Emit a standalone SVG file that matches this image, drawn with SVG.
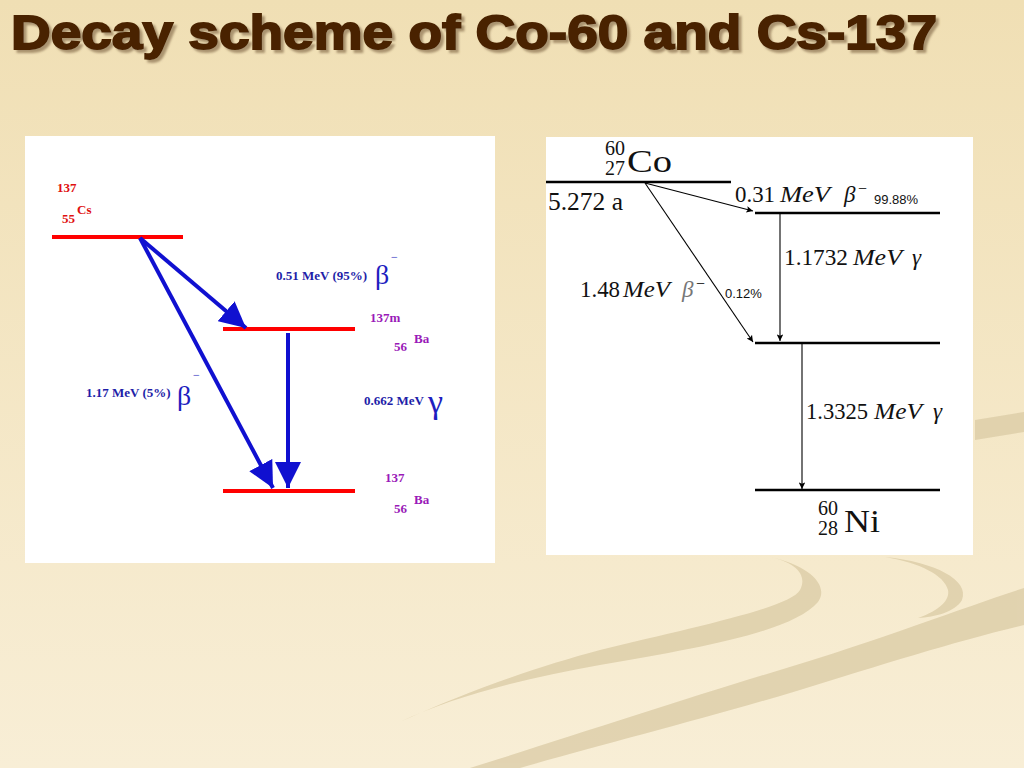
<svg xmlns="http://www.w3.org/2000/svg" width="1024" height="768" viewBox="0 0 1024 768">
<defs>
<linearGradient id="bg" x1="0" y1="0" x2="0" y2="1">
<stop offset="0" stop-color="#F0DFB4"/>
<stop offset="1" stop-color="#F8EED6"/>
</linearGradient>
<filter id="shadow" x="-5%" y="-20%" width="110%" height="150%">
<feDropShadow dx="3" dy="3" stdDeviation="1.2" flood-color="#7A6040" flood-opacity="0.6"/>
</filter>
<marker id="bh" viewBox="0 0 10 10" refX="10" refY="5" markerWidth="6.5" markerHeight="6.5" markerUnits="strokeWidth" orient="auto">
<path d="M0,0 L10,5 L0,10 Z" fill="#1010D0"/>
</marker>
<marker id="kh" viewBox="0 0 10 10" refX="10" refY="5" markerWidth="9" markerHeight="6" markerUnits="strokeWidth" orient="auto">
<path d="M0,0 L10,5 L0,10 L2,5 Z" fill="#000"/>
</marker>
<style>
.red{stroke:#FF0000;stroke-width:4}
.blk{stroke:#000;stroke-width:2.5}
.bl{stroke:#1010D0;stroke-width:4;fill:none;marker-end:url(#bh)}
.th{stroke:#000;stroke-width:1.1;fill:none;marker-end:url(#kh)}
.lb{font-family:"Liberation Serif",serif;font-weight:bold;font-size:13px;fill:#1E1EA8}
.cs{font-family:"Liberation Serif",serif;font-weight:bold;font-size:13px;fill:#E01010}
.ba{font-family:"Liberation Serif",serif;font-weight:bold;font-size:13px;fill:#9A1AB8}
.gr{font-family:"Liberation Serif",serif;fill:#1E1EC0}
.tx{font-family:"Liberation Serif",serif;fill:#111}
.it{font-style:italic}
.sm{font-family:"Liberation Sans",sans-serif;font-size:13px;fill:#111}
</style>
</defs>
<rect width="1024" height="768" fill="url(#bg)"/>
<g id="swooshes" fill="#D9C9A2" opacity="0.7">
<path d="M975,420 L1024,412 L1024,432 L975,440 Z"/>
<path d="M770,557 C808,565 830,585 818,602 C792,632 700,648 600,665 C520,679 450,698 400,722 C470,690 540,666 600,650 C690,628 790,608 800,590 C808,575 795,562 770,557 Z"/>
<path d="M885,557 C935,562 970,580 962,600 C955,612 935,617 918,618 C940,610 950,600 948,590 C944,575 920,563 885,557 Z"/>
<path d="M1024,588 L1024,625 C960,640 880,665 800,690 C700,720 600,745 520,768 L470,768 C560,740 680,700 780,670 C880,640 970,605 1024,588 Z"/>
</g>
<g id="title">
<text x="11" y="49" font-family="Liberation Sans,Arial,sans-serif" font-weight="bold" font-size="48" textLength="926" lengthAdjust="spacingAndGlyphs" fill="#4A2400" stroke="#4A2400" stroke-width="1.8" filter="url(#shadow)">Decay scheme of Co-60 and Cs-137</text>
</g>
<g id="cs137-panel">
<rect x="25" y="136" width="470" height="427" fill="#FFFFFF"/>
<g id="cs137">
<line class="red" x1="52" y1="237" x2="183" y2="237"/>
<text class="cs" x="57" y="192">137</text>
<text class="cs" x="62" y="223">55</text>
<text class="cs" x="77" y="214">Cs</text>
</g>
<g id="ba137m">
<line class="red" x1="223" y1="329" x2="355" y2="329"/>
<text class="ba" x="370" y="322">137m</text>
<text class="ba" x="394" y="351">56</text>
<text class="ba" x="414" y="343">Ba</text>
</g>
<g id="ba137">
<line class="red" x1="223" y1="491" x2="355" y2="491"/>
<text class="ba" x="385" y="482">137</text>
<text class="ba" x="394" y="513">56</text>
<text class="ba" x="414" y="504">Ba</text>
</g>
<g id="cs-connectors">
<line class="bl" x1="140" y1="238" x2="246" y2="328"/>
<line class="bl" x1="140" y1="238" x2="273" y2="488"/>
<line class="bl" x1="288" y1="333" x2="288" y2="488"/>
</g>
<g id="cs-labels">
<text class="lb" x="276" y="280">0.51 MeV (95%)</text>
<text class="gr" x="375" y="284" font-size="28">β</text>
<text class="gr" x="391" y="261" font-size="12">−</text>
<text class="lb" x="86" y="397">1.17 MeV (5%)</text>
<text class="gr" x="177" y="405" font-size="28">β</text>
<text class="gr" x="193" y="379" font-size="12">−</text>
<text class="lb" x="364" y="405">0.662 MeV</text>
<text class="gr" x="428" y="413" font-size="34">γ</text>
</g>
</g>
<g id="co60-panel">
<rect x="546" y="137" width="427" height="418" fill="#FFFFFF"/>
<g id="co60">
<line class="blk" x1="546" y1="182" x2="731" y2="182"/>
<text class="tx" x="605" y="155" font-size="20">60</text>
<text class="tx" x="605" y="175" font-size="20">27</text>
<text class="tx" x="627" y="172" font-size="31" textLength="45" lengthAdjust="spacingAndGlyphs">Co</text>
<text class="tx" x="548" y="210" font-size="25" textLength="75" lengthAdjust="spacingAndGlyphs">5.272 a</text>
</g>
<g id="ni60-2505">
<line class="blk" x1="755" y1="213" x2="940" y2="213"/>
</g>
<g id="ni60-1332">
<line class="blk" x1="755" y1="343" x2="940" y2="343"/>
</g>
<g id="ni60">
<line class="blk" x1="755" y1="490" x2="940" y2="490"/>
<text class="tx" x="818" y="515" font-size="20">60</text>
<text class="tx" x="818" y="535" font-size="20">28</text>
<text class="tx" x="844" y="532" font-size="31" textLength="36" lengthAdjust="spacingAndGlyphs">Ni</text>
</g>
<g id="co-connectors">
<line class="th" x1="645" y1="183" x2="753" y2="211"/>
<line class="th" x1="645" y1="183" x2="753" y2="342"/>
<line class="th" x1="780" y1="214" x2="780" y2="341"/>
<line class="th" x1="802" y1="344" x2="802" y2="489"/>
</g>
<g id="co-labels">
<text class="tx" font-size="23" y="202"><tspan x="735" textLength="40" lengthAdjust="spacingAndGlyphs">0.31</tspan><tspan class="it" x="780" textLength="50" lengthAdjust="spacingAndGlyphs">MeV</tspan><tspan class="it" x="844">β</tspan><tspan x="858" font-size="16" dy="-8">−</tspan></text>
<text class="sm" x="874" y="204">99.88%</text>
<text class="tx" font-size="23" y="265"><tspan x="784" textLength="64" lengthAdjust="spacingAndGlyphs">1.1732</tspan><tspan class="it" x="853" textLength="49" lengthAdjust="spacingAndGlyphs">MeV</tspan><tspan class="it" x="912">γ</tspan></text>
<text class="tx" font-size="23" y="297"><tspan x="580" textLength="40" lengthAdjust="spacingAndGlyphs">1.48</tspan><tspan class="it" x="623" textLength="47" lengthAdjust="spacingAndGlyphs">MeV</tspan><tspan class="it" x="682" fill="#777">β</tspan><tspan x="696" font-size="16" dy="-8">−</tspan></text>
<text class="sm" x="725" y="298">0.12%</text>
<text class="tx" font-size="23" y="419"><tspan x="806" textLength="62" lengthAdjust="spacingAndGlyphs">1.3325</tspan><tspan class="it" x="874" textLength="48" lengthAdjust="spacingAndGlyphs">MeV</tspan><tspan class="it" x="933">γ</tspan></text>
</g>
</g>
</svg>
